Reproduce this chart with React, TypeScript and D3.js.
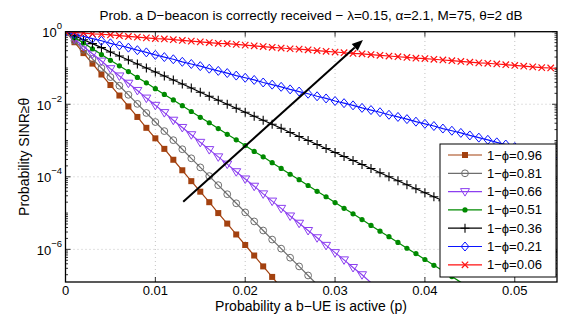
import React, { useEffect, useRef } from 'react';
import * as d3 from 'd3';

// probability a b-UE is active (x), one marker every 0.001
const pValues = [
  0, 0.001, 0.002, 0.003, 0.004, 0.005, 0.006, 0.007, 0.008, 0.009,
  0.01, 0.011, 0.012, 0.013, 0.014, 0.015, 0.016, 0.017, 0.018, 0.019,
  0.02, 0.021, 0.022, 0.023, 0.024, 0.025, 0.026, 0.027, 0.028, 0.029,
  0.03, 0.031, 0.032, 0.033, 0.034, 0.035, 0.036, 0.037, 0.038, 0.039,
  0.04, 0.041, 0.042, 0.043, 0.044, 0.045, 0.046, 0.047, 0.048, 0.049,
  0.05, 0.051, 0.052, 0.053, 0.054, 0.055,
];

// log10 of P(SINR >= theta)
const phi096 = [0, -0.29, -0.59, -0.88, -1.18, -1.47, -1.76, -2.06, -2.35, -2.65, -2.94, -3.23, -3.53, -3.82, -4.12, -4.41, -4.7, -5.0, -5.29, -5.59, -5.88, -6.17, -6.47, -6.76, -7.06];
const phi081 = [0, -0.25, -0.5, -0.75, -1.0, -1.25, -1.49, -1.74, -1.99, -2.24, -2.49, -2.74, -2.99, -3.24, -3.49, -3.74, -3.98, -4.23, -4.48, -4.73, -4.98, -5.23, -5.48, -5.73, -5.98, -6.23, -6.47, -6.72, -6.97];
const phi066 = [0, -0.2, -0.41, -0.61, -0.81, -1.02, -1.22, -1.42, -1.62, -1.83, -2.03, -2.23, -2.44, -2.64, -2.84, -3.05, -3.25, -3.45, -3.65, -3.86, -4.06, -4.26, -4.47, -4.67, -4.87, -5.08, -5.28, -5.48, -5.68, -5.89, -6.09, -6.29, -6.5, -6.7, -6.92, -7.11];
const phi051 = [0, -0.16, -0.31, -0.47, -0.63, -0.79, -0.94, -1.1, -1.26, -1.41, -1.57, -1.73, -1.88, -2.04, -2.2, -2.36, -2.51, -2.67, -2.83, -2.98, -3.14, -3.3, -3.45, -3.61, -3.77, -3.93, -4.08, -4.24, -4.4, -4.55, -4.71, -4.87, -5.02, -5.18, -5.34, -5.5, -5.65, -5.81, -5.97, -6.12, -6.28, -6.44, -6.59, -6.75, -6.91, -7.07];
const phi036 = [0, -0.11, -0.22, -0.33, -0.44, -0.56, -0.67, -0.78, -0.89, -1.0, -1.11, -1.22, -1.33, -1.44, -1.55, -1.67, -1.78, -1.89, -2.0, -2.11, -2.22, -2.33, -2.44, -2.55, -2.66, -2.78, -2.89, -3.0, -3.11, -3.22, -3.33, -3.44, -3.55, -3.66, -3.77, -3.89, -4.0, -4.11, -4.22, -4.33, -4.44, -4.55, -4.66, -4.77, -4.88, -5.0, -5.11, -5.22, -5.33, -5.44, -5.55, -5.66, -5.77, -5.88, -5.99, -6.11];
const phi021 = [0, -0.06, -0.13, -0.19, -0.25, -0.32, -0.38, -0.44, -0.51, -0.57, -0.64, -0.7, -0.76, -0.83, -0.89, -0.95, -1.02, -1.08, -1.14, -1.21, -1.27, -1.33, -1.4, -1.46, -1.52, -1.59, -1.65, -1.71, -1.78, -1.84, -1.91, -1.97, -2.03, -2.1, -2.16, -2.22, -2.29, -2.35, -2.41, -2.48, -2.54, -2.6, -2.67, -2.73, -2.79, -2.86, -2.92, -2.98, -3.05, -3.11, -3.18, -3.24, -3.3, -3.37, -3.43, -3.49];
const phi006 = [0, -0.02, -0.04, -0.06, -0.07, -0.09, -0.11, -0.13, -0.15, -0.17, -0.19, -0.2, -0.22, -0.24, -0.26, -0.28, -0.3, -0.32, -0.33, -0.35, -0.37, -0.39, -0.41, -0.43, -0.45, -0.47, -0.48, -0.5, -0.52, -0.54, -0.56, -0.58, -0.6, -0.61, -0.63, -0.65, -0.67, -0.69, -0.71, -0.73, -0.74, -0.76, -0.78, -0.8, -0.82, -0.84, -0.86, -0.87, -0.89, -0.91, -0.93, -0.95, -0.97, -0.99, -1.0, -1.02];

const seriesLabels = ['1\u2212\u03d5=0.96', '1\u2212\u03d5=0.81', '1\u2212\u03d5=0.66', '1\u2212\u03d5=0.51', '1\u2212\u03d5=0.36', '1\u2212\u03d5=0.21', '1\u2212\u03d5=0.06'];
const seriesValues = [phi096, phi081, phi066, phi051, phi036, phi021, phi006];

const xTicks = [0, 0.01, 0.02, 0.03, 0.04, 0.05];
const xTickLabels = ['0', '0.01', '0.02', '0.03', '0.04', '0.05'];
const yTickExps = [0, -2, -4, -6];

// arrow annotation, data coords (p, log10 prob)
const arrowFrom = [0.0131, -4.69];
const arrowTo = [0.0331, -0.23];

const seriesStyles = [
  { color: '#a3410f', marker: 'square' },
  { color: '#6e6e6e', marker: 'circle' },
  { color: '#8c3ff0', marker: 'triangle' },
  { color: '#008a00', marker: 'dot' },
  { color: '#000000', marker: 'plus' },
  { color: '#0a14ff', marker: 'diamond' },
  { color: '#ff1010', marker: 'cross' },
];

const W = 565;
const H = 323;
const margin = { top: 31.7, right: 8, bottom: 41, left: 65.5 };
const FONT = "'Liberation Sans', Arial, Helvetica, sans-serif";

function drawMarker(g: any, type: string, color: string, x: number, y: number) {
  if (type === 'square') {
    g.append('rect').attr('x', x - 3).attr('y', y - 3).attr('width', 6).attr('height', 6).attr('fill', color);
  } else if (type === 'circle') {
    g.append('circle').attr('cx', x).attr('cy', y).attr('r', 3.4).attr('fill', 'none').attr('stroke', color).attr('stroke-width', 1);
  } else if (type === 'triangle') {
    g.append('path').attr('d', `M${x - 4.5},${y - 3} L${x + 4.5},${y - 3} L${x},${y + 4.5} Z`)
      .attr('fill', 'none').attr('stroke', color).attr('stroke-width', 1);
  } else if (type === 'dot') {
    g.append('circle').attr('cx', x).attr('cy', y).attr('r', 2.6).attr('fill', color);
  } else if (type === 'plus') {
    g.append('path').attr('d', `M${x - 4.5},${y} L${x + 4.5},${y} M${x},${y - 4.5} L${x},${y + 4.5}`)
      .attr('stroke', color).attr('stroke-width', 1.1);
  } else if (type === 'diamond') {
    g.append('path').attr('d', `M${x},${y - 4.5} L${x + 3.8},${y} L${x},${y + 4.5} L${x - 3.8},${y} Z`)
      .attr('fill', 'none').attr('stroke', color).attr('stroke-width', 1);
  } else if (type === 'cross') {
    g.append('path').attr('d', `M${x - 3.2},${y - 3.2} L${x + 3.2},${y + 3.2} M${x - 3.2},${y + 3.2} L${x + 3.2},${y - 3.2}`)
      .attr('stroke', color).attr('stroke-width', 1.2);
  }
}

const App = () => {
  const svgRef = useRef<SVGSVGElement>(null);

  useEffect(() => {
    const svg = d3.select(svgRef.current);
    svg.selectAll('*').remove();

    const innerW = W - margin.left - margin.right;
    const innerH = H - margin.top - margin.bottom;
    const yMinExp = -6.9;

    const x = d3.scaleLinear().domain([0, 0.0547]).range([margin.left, margin.left + innerW]);
    const y = d3.scaleLog().domain([Math.pow(10, yMinExp), 1]).range([margin.top + innerH, margin.top]);
    const x0 = margin.left, x1 = margin.left + innerW;
    const y0 = margin.top + innerH, y1 = margin.top;

    svg.append('rect').attr('width', W).attr('height', H).attr('fill', '#fff');

    svg.append('defs').append('clipPath').attr('id', 'plotClip')
      .append('rect').attr('x', x0).attr('y', y1).attr('width', innerW).attr('height', innerH);

    // Grid
    const grid = svg.append('g').attr('stroke', '#b4b4b4').attr('stroke-width', 0.8).attr('stroke-dasharray', '1,3');
    xTicks.slice(1).forEach(t => {
      grid.append('line').attr('x1', x(t)).attr('x2', x(t)).attr('y1', y0).attr('y2', y1);
    });
    yTickExps.slice(1).forEach(e => {
      grid.append('line').attr('x1', x0).attr('x2', x1).attr('y1', y(Math.pow(10, e))).attr('y2', y(Math.pow(10, e)));
    });

    // Ticks
    const ticks = svg.append('g').attr('stroke', '#000').attr('stroke-width', 0.8);
    xTicks.forEach(t => {
      ticks.append('line').attr('x1', x(t)).attr('x2', x(t)).attr('y1', y0).attr('y2', y0 - 5);
      ticks.append('line').attr('x1', x(t)).attr('x2', x(t)).attr('y1', y1).attr('y2', y1 + 5);
    });
    for (let d = -7; d <= 0; d++) {
      for (let k = 1; k <= 9; k++) {
        const v = k * Math.pow(10, d);
        if (v < Math.pow(10, yMinExp) || v > 1) continue;
        const major = k === 1 && yTickExps.includes(d);
        const len = major ? 5 : 2.5;
        ticks.append('line').attr('x1', x0).attr('x2', x0 + len).attr('y1', y(v)).attr('y2', y(v));
        ticks.append('line').attr('x1', x1).attr('x2', x1 - len).attr('y1', y(v)).attr('y2', y(v));
      }
    }

    // Series
    const plot = svg.append('g').attr('clip-path', 'url(#plotClip)');
    const line = d3.line<number>()
      .x((d, i) => x(pValues[i]))
      .y(d => y(Math.pow(10, d)));

    seriesValues.forEach((vals, si) => {
      const st = seriesStyles[si];
      plot.append('path').datum(vals).attr('d', line).attr('fill', 'none')
        .attr('stroke', st.color).attr('stroke-width', 1.2);
      const mg = plot.append('g');
      vals.forEach((v, i) => {
        if (v < yMinExp || pValues[i] > 0.0547) return;
        drawMarker(mg, st.marker, st.color, x(pValues[i]), y(Math.pow(10, v)));
      });
    });

    // Arrow
    const ax0 = x(arrowFrom[0]), ay0 = y(Math.pow(10, arrowFrom[1]));
    const ax1 = x(arrowTo[0]), ay1 = y(Math.pow(10, arrowTo[1]));
    const ang = Math.atan2(ay1 - ay0, ax1 - ax0);
    const headLen = 11, headW = 4.5;
    const bx = ax1 - headLen * Math.cos(ang), by = ay1 - headLen * Math.sin(ang);
    svg.append('line').attr('x1', ax0).attr('y1', ay0).attr('x2', bx).attr('y2', by)
      .attr('stroke', '#000').attr('stroke-width', 2);
    svg.append('path')
      .attr('d', `M${ax1},${ay1} L${bx - headW * Math.sin(ang)},${by + headW * Math.cos(ang)} L${bx + headW * Math.sin(ang)},${by - headW * Math.cos(ang)} Z`)
      .attr('fill', '#000');

    // Frame
    svg.append('rect').attr('x', x0).attr('y', y1).attr('width', innerW).attr('height', innerH)
      .attr('fill', 'none').attr('stroke', '#000').attr('stroke-width', 1.3);

    // Tick labels
    const txt = svg.append('g').attr('font-family', FONT).attr('fill', '#000');
    xTicks.forEach((t, i) => {
      txt.append('text').attr('x', x(t)).attr('y', 295).attr('text-anchor', 'middle')
        .attr('font-size', 13).text(xTickLabels[i]);
    });
    yTickExps.forEach(e => {
      const ty = y(Math.pow(10, e));
      const t = txt.append('text').attr('x', 62).attr('y', ty + 5.5).attr('text-anchor', 'end').attr('font-size', 13);
      t.append('tspan').text('10');
      t.append('tspan').attr('dy', -8).attr('font-size', 9.5).text(e === 0 ? '0' : '\u2212' + Math.abs(e));
    });

    // Titles
    txt.append('text').attr('x', 311).attr('y', 19.5).attr('text-anchor', 'middle').attr('font-size', 13.5)
      .text('Prob. a D\u2212beacon is correctly received \u2212 \u03bb=0.15, \u03b1=2.1, M=75, \u03b8=2 dB');
    txt.append('text').attr('x', 311).attr('y', 311).attr('text-anchor', 'middle').attr('font-size', 14)
      .text('Probability a b\u2212UE is active (p)');
    txt.append('text').attr('transform', `translate(29,${(y0 + y1) / 2}) rotate(-90)`)
      .attr('text-anchor', 'middle').attr('font-size', 14).text('Probability SINR\u2265\u03b8');

    // Legend
    const lg = svg.append('g');
    const lx = 440, ly = 144, lw = 116, lh = 133;
    lg.append('rect').attr('x', lx).attr('y', ly).attr('width', lw).attr('height', lh)
      .attr('fill', '#fff').attr('stroke', '#000').attr('stroke-width', 1);
    seriesLabels.forEach((lab, i) => {
      const cy = ly + 11 + i * 18.3;
      const st = seriesStyles[i];
      lg.append('line').attr('x1', lx + 8).attr('x2', lx + 42).attr('y1', cy).attr('y2', cy)
        .attr('stroke', st.color).attr('stroke-width', 1.2);
      drawMarker(lg, st.marker, st.color, lx + 25, cy);
      lg.append('text').attr('x', lx + 47).attr('y', cy + 4.5).attr('font-family', FONT)
        .attr('font-size', 13).attr('fill', '#000').text(lab);
    });
  }, []);

  return (
    <div style={{ position: 'absolute', left: 0, top: 0 }}>
      <svg ref={svgRef} width={W} height={H} style={{ display: 'block' }}></svg>
    </div>
  );
};

export default App;
